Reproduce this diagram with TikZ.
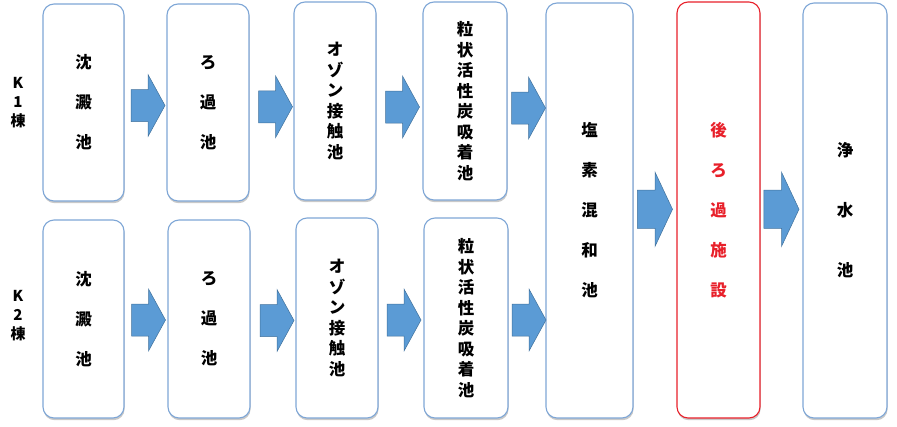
\documentclass[tikz,border=0pt]{standalone}
\usepackage{fontspec}
\newfontfamily\jp{Noto Sans CJK JP}
\usetikzlibrary{calc,shadows}
\definecolor{boxline}{HTML}{7EA6D6}
\definecolor{arrfill}{HTML}{5B9BD5}
\definecolor{arrline}{HTML}{41719C}
\definecolor{redline}{HTML}{E8202A}
\tikzset{
  box/.style={draw=boxline, line width=1.1pt, fill=white, rounded corners=11pt,
    drop shadow={shadow xshift=0.6pt, shadow yshift=-2.2pt, opacity=0.3, fill=black!70},
    align=center, inner sep=0pt},
  txt/.style={font=\jp\bfseries\fontsize{16.5}{#1}\selectfont},
  redbox/.style={box, draw=redline, text=redline},
  lab/.style={align=center, font=\jp\bfseries\fontsize{15}{19}\selectfont},
  arrowfill/.style={fill=arrfill, draw=arrline, line width=0.5pt, line join=miter},
  pics/barrow/.style={code={
    \draw[arrowfill] (-17,-16) -- (0,-16) -- (0,-31) -- (17,0) -- (0,31) -- (0,16) -- (-17,16) -- cycle;}}
}
\begin{document}
\begin{tikzpicture}[x=1pt,y=-1pt]
\useasboundingbox (0,0) rectangle (897,426);
% row 1
\node[box, txt=40, minimum width=81, minimum height=197] (a1) at (83.5,102.5) {沈\\澱\\池};
\node[box, txt=40, minimum width=82, minimum height=197] (a2) at (208,102.5) {ろ\\過\\池};
\node[box, txt=20.5, minimum width=82, minimum height=198] (a3) at (335,101) {オ\\ゾ\\ン\\接\\触\\池};
\node[box, txt=20.5, minimum width=84, minimum height=198] (a4) at (465,101) {粒\\状\\活\\性\\炭\\吸\\着\\池};
% row 2
\node[box, txt=40, minimum width=81, minimum height=198] (b1) at (83.5,319) {沈\\澱\\池};
\node[box, txt=40, minimum width=82, minimum height=198] (b2) at (209,319) {ろ\\過\\池};
\node[box, txt=20.5, minimum width=82, minimum height=200] (b3) at (337,318) {オ\\ゾ\\ン\\接\\触\\池};
\node[box, txt=20.5, minimum width=84, minimum height=200] (b4) at (466,318) {粒\\状\\活\\性\\炭\\吸\\着\\池};
% tall boxes
\node[box, txt=40, minimum width=87, minimum height=415] (c) at (589.5,210.5) {塩\\素\\混\\和\\池};
\node[redbox, txt=40, minimum width=83, minimum height=416] (d) at (718.5,210) {後\\ろ\\過\\施\\設};
\node[box, txt=60, minimum width=84, minimum height=415] (e) at (845,210.5) {浄\\水\\池};
% labels
\node[lab] (k1) at (18,103) {K\\1\\棟};
\node[lab] (k2) at (18,316) {K\\2\\棟};
% arrows row 1
\pic at ($(a1.east)!0.5!(a2.west)+(2.5,3)$) {barrow};
\pic at ($(a2.east)!0.5!(a3.west)+(4,5)$) {barrow};
\pic at ($(a3.east)!0.5!(a4.west)+(3,6)$) {barrow};
\pic at ($(a4.east)!0.5!(c.west |- a4.center)+(2,7)$) {barrow};
% arrows row 2
\pic at ($(b1.east)!0.5!(b2.west)+(2.5,1)$) {barrow};
\pic at ($(b2.east)!0.5!(b3.west)+(4,2)$) {barrow};
\pic at ($(b3.east)!0.5!(b4.west)+(3,2)$) {barrow};
\pic at ($(b4.east)!0.5!(c.west |- b4.center)+(2,2)$) {barrow};
% big arrows
\pic[xscale=1.03,yscale=1.2] at ($(c.east)!0.5!(d.west)+(0,-1)$) {barrow};
\pic[xscale=1.03,yscale=1.2] at ($(d.east)!0.5!(e.west)+(0,-1)$) {barrow};
\end{tikzpicture}
\end{document}
